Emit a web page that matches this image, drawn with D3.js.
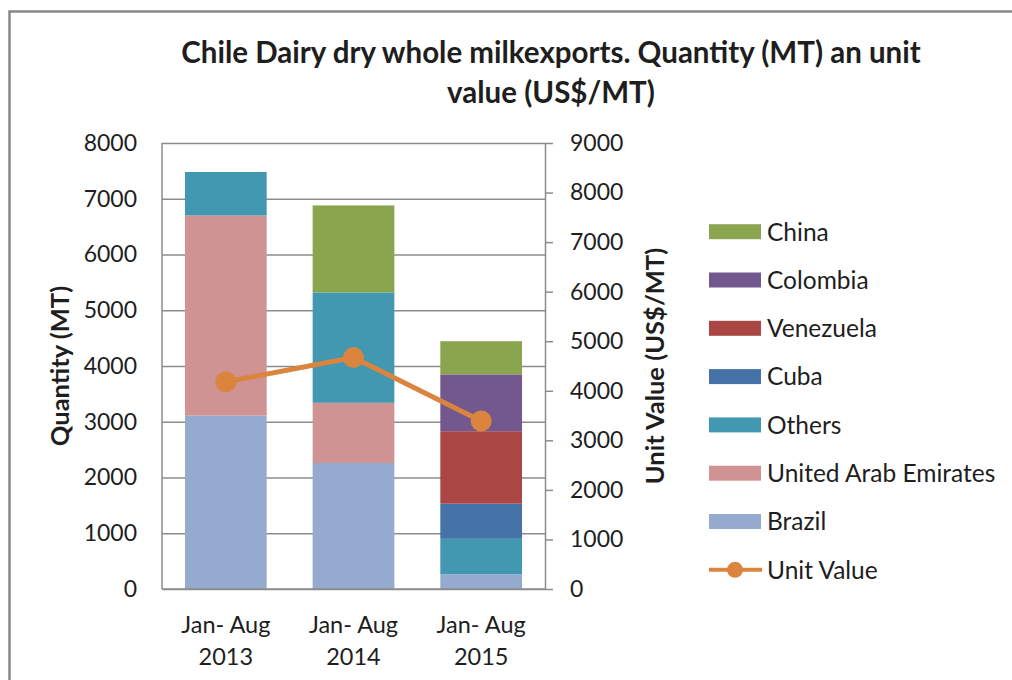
<!DOCTYPE html>
<html>
<head>
<meta charset="utf-8">
<script src="https://cdn.jsdelivr.net/npm/d3@7"></script>
<style>
  body { margin: 0; background: #fff; }
  text { font-family: Lato, "Open Sans", sans-serif; fill: #1e1e1e; }
  .axis path, .axis line { stroke: #8c8c8c; }
</style>
</head>
<body>
<div id="chart"></div>
<script>
var svgWidth = 1012;
var svgHeight = 680;

// data
var periods = ["Jan- Aug 2013", "Jan- Aug 2014", "Jan- Aug 2015"];
var brazil = [3110, 2260, 265];
var uae = [3590, 1080, 0];
var others = [780, 1980, 635];
var cuba = [0, 0, 630];
var venezuela = [0, 0, 1300];
var colombia = [0, 0, 1020];
var china = [0, 1560, 595];
var unitValue = [4180, 4670, 3390];

var qtyTicks = [0, 1000, 2000, 3000, 4000, 5000, 6000, 7000, 8000];
var valTicks = [0, 1000, 2000, 3000, 4000, 5000, 6000, 7000, 8000, 9000];

var seriesNames = ["Brazil", "United Arab Emirates", "Others", "Cuba", "Venezuela", "Colombia", "China"];
var seriesValues = [brazil, uae, others, cuba, venezuela, colombia, china];
var seriesColors = ["#95aacf", "#d09393", "#4298b0", "#4572a7", "#aa4644", "#72588f", "#8ba54f"];
var lineColor = "#db843d";

var plot = { left: 162, right: 545, top: 143, bottom: 589 };

var svg = d3.select("#chart")
  .append("svg")
  .attr("width", svgWidth)
  .attr("height", svgHeight);

// outer frame (cropped on right/bottom)
svg.append("path")
  .attr("d", "M9.5,680 V11.5 H1012")
  .attr("fill", "none")
  .attr("stroke", "#888")
  .attr("stroke-width", 2.5);

// title
var title = svg.append("text")
  .attr("text-anchor", "middle")
  .attr("font-weight", "bold")
  .attr("font-size", "29.5px");
title.append("tspan").attr("x", 551).attr("y", 63)
  .text("Chile Dairy dry whole milkexports. Quantity (MT) an unit");
title.append("tspan").attr("x", 551).attr("y", 103)
  .text("value (US$/MT)");

var table = periods.map(function(p, i) {
  var row = { period: p };
  seriesNames.forEach(function(name, j) { row[name] = seriesValues[j][i]; });
  row.unit = unitValue[i];
  return row;
});

var xBand = d3.scaleBand()
  .domain(periods)
  .range([plot.left, plot.right])
  .paddingInner(0.36)
  .paddingOuter(0.18);

var yQty = d3.scaleLinear().domain([0, 8000]).range([plot.bottom, plot.top]);
var yVal = d3.scaleLinear().domain([0, 9000]).range([plot.bottom, plot.top]);

// gridlines
svg.append("g")
  .attr("class", "axis")
  .attr("transform", `translate(${plot.left},0)`)
  .call(d3.axisLeft(yQty).tickValues(qtyTicks).tickSize(-(plot.right - plot.left)).tickFormat(""))
  .call(g => g.select(".domain").remove())
  .selectAll("line").attr("stroke-width", 1.3);

// left axis labels
svg.append("g")
  .attr("transform", `translate(${plot.left},0)`)
  .call(d3.axisLeft(yQty).tickValues(qtyTicks).tickSize(0).tickPadding(25).tickFormat(d3.format("d")))
  .call(g => g.select(".domain").remove())
  .selectAll("text")
  .attr("font-size", "23px")
  .attr("font-family", "Lato, sans-serif")
  .attr("fill", "#1e1e1e");

// stacked bars
var stack = d3.stack().keys(seriesNames);
var layers = stack(table);

svg.append("g").selectAll("g")
  .data(layers)
  .enter().append("g")
  .attr("fill", (d, i) => seriesColors[i])
  .selectAll("rect")
  .data(d => d)
  .enter().append("rect")
  .attr("x", d => xBand(d.data.period))
  .attr("width", xBand.bandwidth())
  .attr("y", d => yQty(d[1]))
  .attr("height", d => yQty(d[0]) - yQty(d[1]));

// axis lines
svg.append("line")
  .attr("x1", plot.left).attr("x2", plot.left)
  .attr("y1", plot.top).attr("y2", plot.bottom)
  .attr("stroke", "#8c8c8c").attr("stroke-width", 1.5);
svg.append("line")
  .attr("x1", plot.left).attr("x2", plot.right)
  .attr("y1", plot.bottom).attr("y2", plot.bottom)
  .attr("stroke", "#8c8c8c").attr("stroke-width", 1.5);

// right axis
var rightAxis = svg.append("g")
  .attr("class", "axis")
  .attr("transform", `translate(${plot.right},0)`)
  .call(d3.axisRight(yVal).tickValues(valTicks).tickSizeInner(8).tickSizeOuter(0).tickPadding(17).tickFormat(d3.format("d")));
rightAxis.selectAll("line, path").attr("stroke-width", 1.5);
rightAxis.selectAll("text")
  .attr("font-size", "23px")
  .attr("font-family", "Lato, sans-serif")
  .attr("fill", "#1e1e1e");

// category labels
var xLabels = svg.append("g").selectAll("text")
  .data(periods)
  .enter().append("text")
  .attr("text-anchor", "middle")
  .attr("font-size", "23.5px");
xLabels.append("tspan")
  .attr("x", d => xBand(d) + xBand.bandwidth() / 2)
  .attr("y", 633)
  .text(d => d.slice(0, d.lastIndexOf(" ")));
xLabels.append("tspan")
  .attr("x", d => xBand(d) + xBand.bandwidth() / 2)
  .attr("y", 665)
  .text(d => d.slice(d.lastIndexOf(" ") + 1));

// unit value line
var line = d3.line()
  .x(d => xBand(d.period) + xBand.bandwidth() / 2)
  .y(d => yVal(d.unit));

svg.append("path")
  .datum(table)
  .attr("d", line)
  .attr("fill", "none")
  .attr("stroke", lineColor)
  .attr("stroke-width", 5)
  .attr("stroke-linejoin", "round");

svg.append("g").selectAll("circle")
  .data(table)
  .enter().append("circle")
  .attr("cx", d => xBand(d.period) + xBand.bandwidth() / 2)
  .attr("cy", d => yVal(d.unit))
  .attr("r", 10.5)
  .attr("fill", lineColor);

// axis titles
svg.append("text")
  .attr("transform", `translate(60, ${(plot.top + plot.bottom) / 2}) rotate(-90)`)
  .attr("text-anchor", "middle")
  .attr("dy", "0.35em")
  .attr("font-weight", "bold")
  .attr("font-size", "25.5px")
  .text("Quantity (MT)");

svg.append("text")
  .attr("transform", `translate(655, ${(plot.top + plot.bottom) / 2}) rotate(-90)`)
  .attr("text-anchor", "middle")
  .attr("dy", "0.35em")
  .attr("font-weight", "bold")
  .attr("font-size", "25.5px")
  .text("Unit Value (US$/MT)");

// legend (reverse stacking order, then the line)
var legendItems = seriesNames.slice().reverse().map(function(name) {
  return { name: name, color: seriesColors[seriesNames.indexOf(name)], type: "bar" };
});
legendItems.push({ name: "Unit Value", color: lineColor, type: "line" });

var legend = svg.append("g").selectAll("g")
  .data(legendItems)
  .enter().append("g")
  .attr("transform", (d, i) => `translate(709, ${231.7 + i * 48.3})`);

legend.filter(d => d.type === "bar").append("rect")
  .attr("x", 0).attr("y", -7.5)
  .attr("width", 52).attr("height", 15)
  .attr("fill", d => d.color);

var lineItems = legend.filter(d => d.type === "line");
lineItems.append("line")
  .attr("x1", 0).attr("x2", 53)
  .attr("stroke", d => d.color)
  .attr("stroke-width", 4);
lineItems.append("circle")
  .attr("cx", 26).attr("r", 8)
  .attr("fill", d => d.color);

legend.append("text")
  .attr("x", 58)
  .attr("dy", "0.36em")
  .attr("font-size", "24.5px")
  .text(d => d.name);
</script>
</body>
</html>
